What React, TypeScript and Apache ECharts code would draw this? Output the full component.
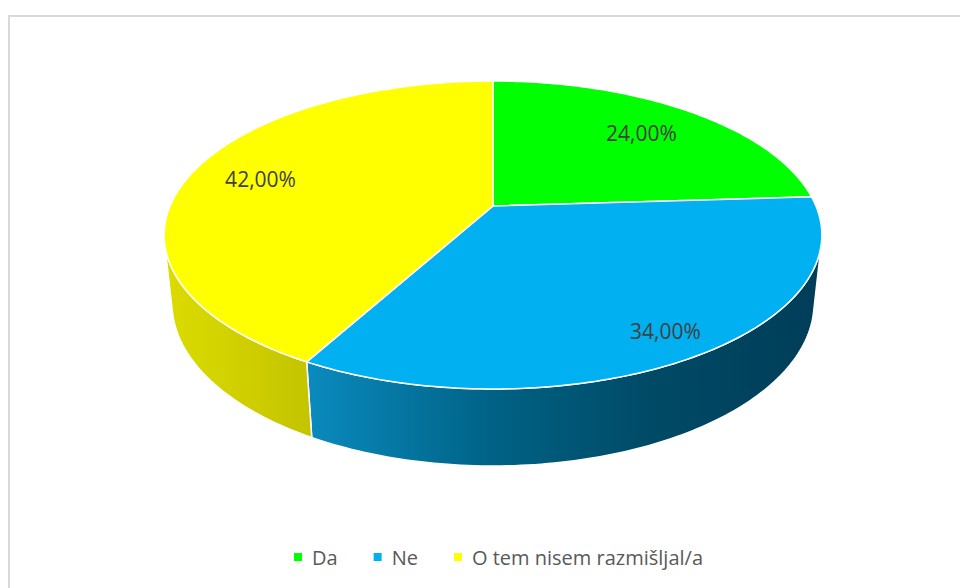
import React, { useEffect, useRef } from "react";
import * as echarts from "echarts";

// ---- data ----
const categories = ["Da", "Ne", "O tem nisem razmišljal/a"];
const values = [24, 34, 42];

// ---- styles ----
const topColors = ["#00FF00", "#00B0F0", "#FFFF00"];
const labelRadius = [0.74, 0.86, 0.77];
const wallStops: [number, string][][] = [
  [[0, "#00d000"], [1, "#006000"]],
  [[0, "#0a9ad5"], [0.22, "#0a8abd"], [0.5, "#006285"], [0.74, "#004a66"], [1, "#003d58"]],
  [[0, "#dcdc00"], [0.22, "#c4c400"], [1, "#8a8a00"]],
];

// ---- 3D camera (perspective view of a flat cylinder) ----
const CX = 493;
const CY = 206;
const FOCAL = 1523;
const DIST = 4.716;
const SIN_PHI = 0.4599;
const COS_PHI = Math.sqrt(1 - SIN_PHI * SIN_PHI);
const THICK = 0.2392;

function project(x: number, y: number, z: number): number[] {
  const yc = y * COS_PHI - z * SIN_PHI;
  const zc = DIST - z * COS_PHI - y * SIN_PHI;
  return [CX + (FOCAL * x) / zc, CY - (FOCAL * yc) / zc];
}
function rim(theta: number, y: number, r = 1): number[] {
  return project(r * Math.sin(theta), y, -r * Math.cos(theta));
}
function arcPoints(a0: number, a1: number, y: number): number[][] {
  const n = Math.max(2, Math.ceil((a1 - a0) / (Math.PI / 180)));
  const pts: number[][] = [];
  for (let k = 0; k <= n; k++) pts.push(rim(a0 + ((a1 - a0) * k) / n, y));
  return pts;
}
const VIS = Math.acos(-1 / (DIST * COS_PHI));

let xMin = Infinity;
let xMax = -Infinity;
for (let k = 0; k < 720; k++) {
  const p = rim((k / 720) * 2 * Math.PI, 0);
  xMin = Math.min(xMin, p[0]);
  xMax = Math.max(xMax, p[0]);
}

const total = values.reduce((a, b) => a + b, 0);

function makeRender(i: number) {
  return (params: any, api: any) => {
    const v = api.value(0) as number;
    const start = values.slice(0, i).reduce((a, b) => a + b, 0);
    const a0 = (start / total) * 2 * Math.PI;
    const a1 = ((start + v) / total) * 2 * Math.PI;
    const children: any[] = [];
    const w0 = Math.max(a0, VIS);
    const w1 = Math.min(a1, 2 * Math.PI - VIS);
    if (w1 > w0) {
      const top = arcPoints(w0, w1, 0);
      const bot = arcPoints(w0, w1, -THICK).reverse();
      children.push({
        type: "polygon",
        z2: 1,
        shape: { points: top.concat(bot) },
        style: {
          fill: new echarts.graphic.LinearGradient(
            xMin,
            0,
            xMax,
            0,
            wallStops[i].map(([offset, color]) => ({ offset, color })),
            true
          ),
          stroke: "#ffffff",
          lineWidth: 1.5,
          lineJoin: "round",
        },
      });
    }
    const topPts = [project(0, 0, 0)].concat(arcPoints(a0, a1, 0));
    children.push({
      type: "polygon",
      z2: 5,
      shape: { points: topPts },
      style: { fill: topColors[i], stroke: "#ffffff", lineWidth: 1.5, lineJoin: "round" },
    });
    const mid = (a0 + a1) / 2;
    const lp = rim(mid, 0, labelRadius[i]);
    const pct = ((v / total) * 100).toFixed(2).replace(".", ",") + "%";
    children.push({
      type: "text",
      z2: 10,
      x: lp[0],
      y: lp[1],
      style: {
        text: pct,
        fill: "#404040",
        fontSize: 21,
        fontFamily: "Open Sans",
        align: "center",
        verticalAlign: "middle",
      },
    });
    return { type: "group", children };
  };
}

export default function App() {
  const ref = useRef<HTMLDivElement>(null);
  useEffect(() => {
    document.body.style.margin = "0";
    if (!ref.current) return;
    const chart = echarts.init(ref.current, undefined, { renderer: "svg" });
    chart.setOption({
      animation: false,
      backgroundColor: "#ffffff",
      graphic: [
        {
          type: "rect",
          silent: true,
          z: -1,
          shape: { x: 9, y: 16, width: 1000, height: 600 },
          style: { fill: "none", stroke: "#d9d9d9", lineWidth: 2 },
        },
      ],
      legend: {
        data: categories,
        left: 294,
        top: 547,
        padding: 0,
        icon: "rect",
        itemWidth: 8,
        itemHeight: 8,
        itemGap: 36,
        selectedMode: false,
        textStyle: {
          fontSize: 20,
          fontFamily: "Open Sans",
          color: "#595959",
          padding: [0, 0, 0, 5],
          lineHeight: 20,
        },
      },
      series: categories.map((name, i) => ({
        type: "custom",
        name,
        coordinateSystem: "none",
        silent: true,
        itemStyle: { color: topColors[i] },
        data: [values[i]],
        renderItem: makeRender(i),
      })),
    });
    return () => chart.dispose();
  }, []);
  return <div ref={ref} style={{ width: 960, height: 588 }} />;
}
